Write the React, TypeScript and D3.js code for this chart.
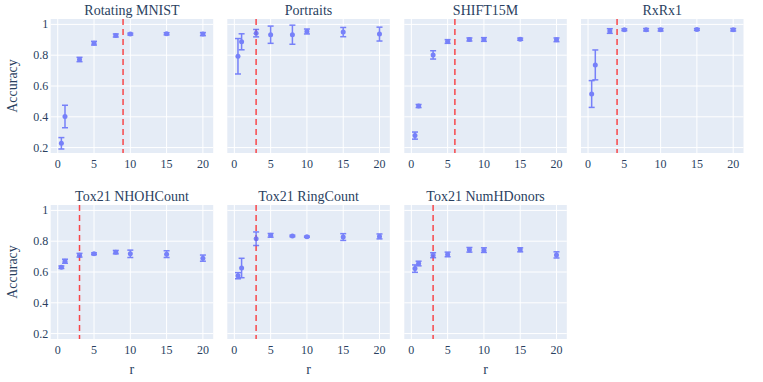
import React from "react";
import * as d3 from "d3";

const W = 763;
const H = 382;

const rValues = [0.5, 1, 3, 5, 8, 10, 15, 20];
const xTicks = [0, 5, 10, 15, 20];
const yTicks = [0.2, 0.4, 0.6, 0.8, 1];

const titles = [
  "Rotating MNIST",
  "Portraits",
  "SHIFT15M",
  "RxRx1",
  "Tox21 NHOHCount",
  "Tox21 RingCount",
  "Tox21 NumHDonors",
];

const thresholds = [9, 3, 6, 4, 3, 3, 3];

const meanRotatingMNIST = [0.228, 0.402, 0.772, 0.878, 0.928, 0.937, 0.939, 0.937];
const errRotatingMNIST = [0.037, 0.073, 0.014, 0.012, 0.01, 0.006, 0.007, 0.01];

const meanPortraits = [0.793, 0.887, 0.943, 0.933, 0.933, 0.954, 0.95, 0.937];
const errPortraits = [0.115, 0.052, 0.024, 0.056, 0.062, 0.016, 0.03, 0.045];

const meanSHIFT15M = [0.278, 0.47, 0.802, 0.889, 0.902, 0.902, 0.904, 0.9];
const errSHIFT15M = [0.023, 0.01, 0.027, 0.012, 0.01, 0.012, 0.007, 0.012];

const meanRxRx1 = [0.548, 0.737, 0.957, 0.965, 0.965, 0.965, 0.967, 0.965];
const errRxRx1 = [0.087, 0.097, 0.015, 0.006, 0.008, 0.008, 0.006, 0.008];

const meanNHOHCount = [0.631, 0.67, 0.709, 0.718, 0.729, 0.718, 0.716, 0.69];
const errNHOHCount = [0.008, 0.013, 0.012, 0.006, 0.011, 0.024, 0.022, 0.02];

const meanRingCount = [0.576, 0.626, 0.816, 0.838, 0.834, 0.829, 0.827, 0.831];
const errRingCount = [0.02, 0.063, 0.044, 0.012, 0.005, 0.004, 0.022, 0.016];

const meanNumHDonors = [0.622, 0.655, 0.709, 0.714, 0.744, 0.742, 0.744, 0.711];
const errNumHDonors = [0.024, 0.015, 0.016, 0.015, 0.015, 0.015, 0.013, 0.02];

const means = [
  meanRotatingMNIST,
  meanPortraits,
  meanSHIFT15M,
  meanRxRx1,
  meanNHOHCount,
  meanRingCount,
  meanNumHDonors,
];
const errs = [
  errRotatingMNIST,
  errPortraits,
  errSHIFT15M,
  errRxRx1,
  errNHOHCount,
  errRingCount,
  errNumHDonors,
];

const FONT = "Liberation Serif";
const TEXT = "#2a3f5f";
const BLUE = "#636efa";

const panelLefts = [50.7, 227.3, 404.3, 581];
const panelW = 162.5;
const rowTops = [19, 205];
const panelH = 134;

const txt = (size: number) => ({ fontFamily: FONT, fontSize: size + "px", fill: TEXT });

function Panel({ idx }: { idx: number }) {
  const col = idx % 4;
  const row = Math.floor(idx / 4);
  const left = panelLefts[col];
  const top = rowTops[row];
  const x = d3.scaleLinear().domain([-0.97, 21.42]).range([left, left + panelW]);
  const y = d3.scaleLinear().domain([0.165, 1.035]).range([top + panelH, top]);
  const m = means[idx];
  const e = errs[idx];
  return (
    <g>
      <rect x={left} y={top} width={panelW} height={panelH} fill="#E5ECF6" />
      {xTicks.map((t) => (
        <line key={"gx" + t} x1={x(t)} x2={x(t)} y1={top} y2={top + panelH} stroke="#fff" strokeWidth={1} />
      ))}
      {yTicks.map((t) => (
        <line key={"gy" + t} x1={left} x2={left + panelW} y1={y(t)} y2={y(t)} stroke="#fff" strokeWidth={1} />
      ))}
      <line
        x1={x(thresholds[idx])}
        x2={x(thresholds[idx])}
        y1={top}
        y2={top + panelH}
        stroke="red"
        strokeOpacity={0.7}
        strokeWidth={1.5}
        strokeDasharray="6,4"
      />
      <g opacity={0.85}>
        {rValues.map((r, i) => {
          const cx = x(r);
          const y0 = y(m[i] - e[i]);
          const y1 = y(m[i] + e[i]);
          return (
            <g key={"p" + i}>
              <line x1={cx} x2={cx} y1={y0} y2={y1} stroke={BLUE} strokeWidth={1.5} />
              <line x1={cx - 3} x2={cx + 3} y1={y0} y2={y0} stroke={BLUE} strokeWidth={1.5} />
              <line x1={cx - 3} x2={cx + 3} y1={y1} y2={y1} stroke={BLUE} strokeWidth={1.5} />
              <circle cx={cx} cy={y(m[i])} r={2.5} fill={BLUE} />
            </g>
          );
        })}
      </g>
      {xTicks.map((t) => (
        <text key={"tx" + t} x={x(t)} y={top + panelH + 15} textAnchor="middle" style={txt(12)}>
          {t}
        </text>
      ))}
      {col === 0 &&
        yTicks.map((t) => (
          <text key={"ty" + t} x={left - 2.5} y={y(t) + 4} textAnchor="end" style={txt(12)}>
            {t === 1 ? "1" : String(t)}
          </text>
        ))}
      <text x={left + panelW / 2} y={top - 4.5} textAnchor="middle" style={txt(14)}>
        {titles[idx]}
      </text>
      {col === 0 && (
        <text
          transform={`translate(17,${top + panelH / 2}) rotate(-90)`}
          textAnchor="middle"
          style={txt(14)}
        >
          Accuracy
        </text>
      )}
      {row === 1 && (
        <text x={left + panelW / 2} y={374} textAnchor="middle" style={txt(14)}>
          r
        </text>
      )}
    </g>
  );
}

export default function App() {
  return (
    <svg
      width={W}
      height={H}
      style={{ position: "absolute", left: 0, top: 0, background: "#fff" }}
    >
      <rect x={0} y={0} width={W} height={H} fill="#fff" />
      {titles.map((_, i) => (
        <Panel key={i} idx={i} />
      ))}
    </svg>
  );
}
